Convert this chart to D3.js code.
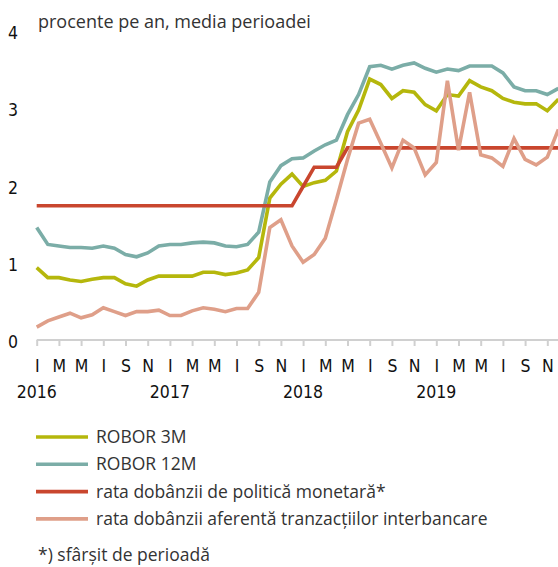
<!DOCTYPE html>
<html>
<head>
<meta charset="utf-8">
<script src="https://cdn.jsdelivr.net/npm/d3@7"></script>
<style>
  body { margin: 0; background: #fff; }
  svg { display: block; }
  .tick-label { font-family: "Liberation Sans Narrow", "DejaVu Sans Condensed", sans-serif; font-size: 17.5px; fill: #111; }
  .txt { font-family: "Open Sans", "Noto Sans", sans-serif; fill: #333; }
</style>
</head>
<body>
<svg width="558" height="567"></svg>
<script>
// months Jan 2016 .. Dec 2019
var months = d3.timeMonths(new Date(2016, 0, 1), new Date(2020, 0, 1));
var monthTickLabels = ["I", "M", "M", "I", "S", "N"];
var yearLabels = ["2016", "2017", "2018", "2019"];
var yTicks = [0, 1, 2, 3, 4];

var robor3m = [0.95, 0.82, 0.82, 0.79, 0.77, 0.80, 0.82, 0.82, 0.74, 0.71, 0.79, 0.84,
               0.84, 0.84, 0.84, 0.89, 0.89, 0.86, 0.88, 0.92, 1.08, 1.85, 2.03, 2.16,
               2.00, 2.05, 2.08, 2.20, 2.71, 2.99, 3.39, 3.32, 3.14, 3.24, 3.22, 3.06,
               2.98, 3.19, 3.17, 3.37, 3.29, 3.24, 3.14, 3.09, 3.07, 3.07, 2.98, 3.13];
var robor12m = [1.47, 1.25, 1.23, 1.21, 1.21, 1.20, 1.23, 1.20, 1.12, 1.09, 1.14, 1.23,
                1.25, 1.25, 1.27, 1.28, 1.27, 1.23, 1.22, 1.25, 1.41, 2.06, 2.27, 2.36,
                2.37, 2.46, 2.54, 2.60, 2.93, 3.19, 3.55, 3.57, 3.52, 3.57, 3.60, 3.53,
                3.48, 3.52, 3.50, 3.56, 3.56, 3.56, 3.47, 3.29, 3.24, 3.24, 3.19, 3.27];
var policyRate = [1.75, 1.75, 1.75, 1.75, 1.75, 1.75, 1.75, 1.75, 1.75, 1.75, 1.75, 1.75,
                  1.75, 1.75, 1.75, 1.75, 1.75, 1.75, 1.75, 1.75, 1.75, 1.75, 1.75, 1.75,
                  2.00, 2.25, 2.25, 2.25, 2.50, 2.50, 2.50, 2.50, 2.50, 2.50, 2.50, 2.50,
                  2.50, 2.50, 2.50, 2.50, 2.50, 2.50, 2.50, 2.50, 2.50, 2.50, 2.50, 2.50];
var interbank = [0.18, 0.26, 0.31, 0.36, 0.30, 0.34, 0.43, 0.38, 0.33, 0.38, 0.38, 0.40,
                 0.33, 0.33, 0.39, 0.43, 0.41, 0.38, 0.42, 0.42, 0.63, 1.47, 1.57, 1.23,
                 1.02, 1.12, 1.33, 1.83, 2.35, 2.82, 2.87, 2.56, 2.24, 2.60, 2.50, 2.15,
                 2.31, 3.37, 2.47, 3.22, 2.41, 2.37, 2.26, 2.62, 2.35, 2.28, 2.38, 2.74];

var series = [
  {name: "ROBOR 3M", values: robor3m, color: "#b5b70c"},
  {name: "ROBOR 12M", values: robor12m, color: "#7badA7"},
  {name: "rata dobânzii de politică monetară*", values: policyRate, color: "#c9462e"},
  {name: "rata dobânzii aferentă tranzacțiilor interbancare", values: interbank, color: "#df9f89"}
];

var svg = d3.select("svg");

var x = d3.scalePoint().domain(months.map(function(d, i) { return i; })).range([36.7, 558.4]);
var y = d3.scaleLinear().domain([0, 4]).range([341, 32]);

// title
svg.append("text")
    .attr("class", "txt")
    .attr("x", 38).attr("y", 28)
    .style("font-size", "18px")
    .text("procente pe an, media perioadei");

// y labels
svg.selectAll(".ylab")
  .data(yTicks)
  .enter().append("text")
    .attr("class", "tick-label")
    .attr("x", 13)
    .attr("y", function(d) { return y(d) + 7; })
    .attr("text-anchor", "middle")
    .text(function(d) { return d; });

// x axis
var xAxis = d3.axisBottom(x)
    .tickValues(x.domain().filter(function(d) { return d % 2 === 0; }))
    .tickSize(6)
    .tickSizeOuter(0)
    .tickPadding(14)
    .tickFormat(function(d) { return monthTickLabels[(d % 12) / 2]; });

var gx = svg.append("g")
    .attr("transform", "translate(0," + 340 + ")")
    .call(xAxis);
gx.select(".domain").attr("stroke", "#d0d0d0").attr("stroke-width", 2)
    .attr("d", "M" + x(0) + ",0H558");
gx.selectAll(".tick line").attr("stroke", "#d0d0d0").attr("stroke-width", 2);
gx.selectAll(".tick text")
    .attr("class", "tick-label")
    .attr("font-family", null).attr("font-size", null);

svg.selectAll(".year")
  .data(yearLabels)
  .enter().append("text")
    .attr("class", "tick-label")
    .attr("x", function(d, i) { return x(i * 12); })
    .attr("y", 398)
    .attr("text-anchor", "middle")
    .text(function(d) { return d; });

// lines
var line = d3.line()
    .x(function(d, i) { return x(i); })
    .y(function(d) { return y(d); });

svg.selectAll(".series")
  .data(series)
  .enter().append("path")
    .attr("class", "series")
    .attr("d", function(d) { return line(d.values); })
    .style("fill", "none")
    .style("stroke", function(d) { return d.color; })
    .style("stroke-width", "3.6px");

// legend
var leg = svg.selectAll(".leg")
  .data(series)
  .enter().append("g")
    .attr("transform", function(d, i) { return "translate(36," + (437 + i * 27.3) + ")"; });
leg.append("line")
    .attr("x1", 0).attr("x2", 52)
    .style("stroke", function(d) { return d.color; })
    .style("stroke-width", "3.6px");
leg.append("text")
    .attr("class", "txt")
    .attr("x", 60).attr("y", 6)
    .style("font-size", "17.5px")
    .text(function(d) { return d.name; });

svg.append("text")
    .attr("class", "txt")
    .attr("x", 38).attr("y", 561)
    .style("font-size", "17.5px")
    .text("*) sfârșit de perioadă");
</script>
</body>
</html>
